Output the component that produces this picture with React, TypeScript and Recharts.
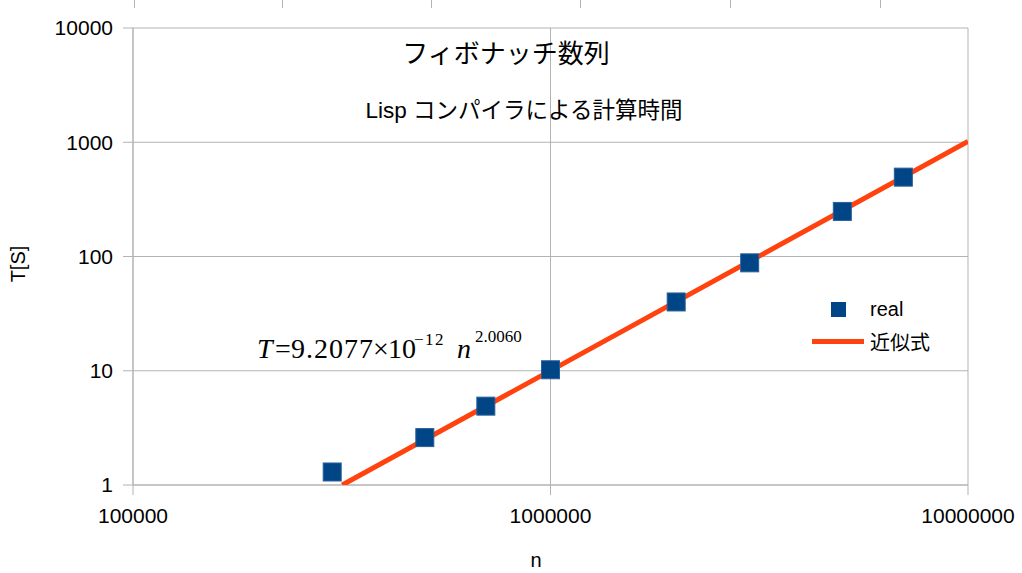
import React from "react";
import {
  ComposedChart,
  Scatter,
  XAxis,
  YAxis,
  CartesianGrid,
} from "recharts";

// measured run times (n, T[s])
const nValues = [300000, 500000, 700000, 1000000, 2000000, 3000000, 5000000, 7000000];
const tValues = [1.3, 2.6, 4.9, 10.2, 40, 88, 248, 495];

// fitted curve end points
const fitN = [317000, 10000000];
const fitT = [1, 1015];

const xTicks = [100000, 1000000, 10000000];
const yTicks = [1, 10, 100, 1000, 10000];

const realData = nValues.map((n, i) => ({ n, t: tValues[i] }));
const fitData = fitN.map((n, i) => ({ n, t: fitT[i] }));

const BLUE = "#004586";
const ORANGE = "#ff420e";
const GRID = "#b3b3b3";
const SANS = "'Liberation Sans', Arial, sans-serif";
const CJK = "'Noto Sans CJK JP', 'Liberation Sans', sans-serif";
const SERIF = "'Liberation Serif', 'Times New Roman', serif";

const SquareDot = (props: any) => {
  const { cx, cy } = props;
  return (
    <rect
      x={cx - 9}
      y={cy - 9}
      width={18}
      height={18}
      fill={BLUE}
      stroke="#2a6099"
      strokeWidth={1}
    />
  );
};

const NoDot = () => <g />;

const topTicks = [134, 282, 431, 580, 730, 880];

export default function App() {
  return (
    <div style={{ position: "absolute", left: 0, top: 0, width: 1022, height: 573, background: "#fff" }}>
      {topTicks.map((x) => (
        <div
          key={x}
          style={{ position: "absolute", left: x, top: 0, width: 1, height: 8, background: GRID }}
        />
      ))}
      <ComposedChart
        width={1022}
        height={573}
        margin={{ top: 28, right: 54, bottom: 0, left: 0 }}
      >
        <CartesianGrid stroke={GRID} strokeWidth={1} />
        <XAxis
          dataKey="n"
          type="number"
          scale="log"
          domain={[100000, 10000000]}
          ticks={xTicks}
          allowDataOverflow
          height={88}
          stroke={GRID}
          tickSize={10}
          tickMargin={13}
          tick={{ fill: "#000", fontSize: 21, fontFamily: SANS }}
          label={() => (
            <text x={536} y={567} textAnchor="middle" fontSize={20} fontFamily={SANS} fill="#000">
              n
            </text>
          )}
        />
        <YAxis
          dataKey="t"
          type="number"
          scale="log"
          domain={[1, 10000]}
          ticks={yTicks}
          allowDataOverflow
          width={133}
          stroke={GRID}
          tickSize={10}
          tickMargin={10}
          tick={{ fill: "#000", fontSize: 21, fontFamily: SANS }}
          label={() => (
            <text
              x={25}
              y={264}
              textAnchor="middle"
              fontSize={20}
              fontFamily={SANS}
              fill="#000"
              transform="rotate(-90 25 264)"
            >
              T[S]
            </text>
          )}
        />
        <Scatter
          name="近似式"
          data={fitData}
          line={{ stroke: ORANGE, strokeWidth: 5 }}
          lineType="joint"
          shape={NoDot}
          fill={ORANGE}
          isAnimationActive={false}
        />
        <Scatter
          name="real"
          data={realData}
          shape={SquareDot}
          fill={BLUE}
          isAnimationActive={false}
        />
      </ComposedChart>

      {/* legend */}
      <div style={{ position: "absolute", left: 812, top: 293, fontFamily: CJK, fontSize: 20, color: "#000" }}>
        <div style={{ display: "flex", alignItems: "center", height: 32 }}>
          <div style={{ width: 52, display: "flex", justifyContent: "center" }}>
            <div style={{ width: 15, height: 15, background: BLUE }} />
          </div>
          <span style={{ marginLeft: 6, fontFamily: SANS }}>real</span>
        </div>
        <div style={{ display: "flex", alignItems: "center", height: 32 }}>
          <div style={{ width: 52, height: 5, background: ORANGE }} />
          <span style={{ marginLeft: 6 }}>近似式</span>
        </div>
      </div>

      <svg
        width={1022}
        height={573}
        style={{ position: "absolute", left: 0, top: 0, pointerEvents: "none" }}
      >
        <text x={506} y={63} textAnchor="middle" fontSize={26} fontFamily={CJK} fill="#000">
          フィボナッチ数列
        </text>
        <text x={524} y={118} textAnchor="middle" fontSize={22.5} fontFamily={CJK} fill="#000">
          <tspan fontFamily={SANS}>Lisp </tspan>コンパイラによる計算時間
        </text>
        <g fontFamily={SERIF} fill="#000">
          <text x={257} y={358} fontSize={28} fontStyle="italic">T</text>
          <text x={275} y={358} fontSize={28}>=</text>
          <text x={291} y={358} fontSize={28} letterSpacing={1}>9.2077</text>
          <text x={373} y={358} fontSize={28}>×</text>
          <text x={388} y={358} fontSize={28}>10</text>
          <text x={414} y={345} fontSize={17} letterSpacing={1.5}>−12</text>
          <text x={457} y={358} fontSize={28} fontStyle="italic">n</text>
          <text x={475} y={342} fontSize={17}>2.0060</text>
        </g>
      </svg>
    </div>
  );
}
